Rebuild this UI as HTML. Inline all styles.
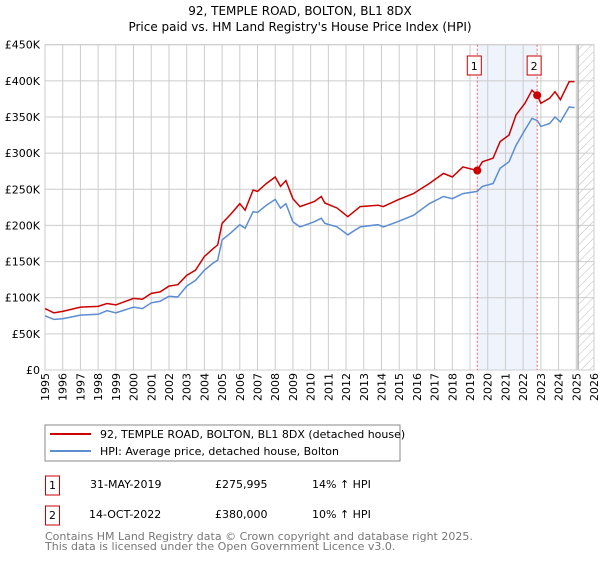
<!DOCTYPE html>
<html><head><meta charset="utf-8"><style>
body{margin:0;width:600px;height:560px;background:#fff;font-family:"DejaVu Sans","Liberation Sans",sans-serif;overflow:hidden}
svg text{font-family:"DejaVu Sans","Liberation Sans",sans-serif}
</style></head><body>
<svg id="c" width="600" height="560" xmlns="http://www.w3.org/2000/svg">
<text x="300" y="15" text-anchor="middle" font-size="12">92, TEMPLE ROAD, BOLTON, BL1 8DX</text>
<text x="300" y="31" text-anchor="middle" font-size="12">Price paid vs. HM Land Registry's House Price Index (HPI)</text>
<defs><pattern id="hatch" width="6" height="6" patternUnits="userSpaceOnUse" patternTransform="rotate(45)"><line x1="0" y1="0" x2="0" y2="6" stroke="#bbb" stroke-width="1"/></pattern></defs>
<g id="grid"></g><g id="marks"></g>
<rect x="45" y="425" width="355" height="36" fill="#fff" stroke="#888"/>
<line x1="50" y1="434" x2="91" y2="434" stroke="#cc0000" stroke-width="2"/>
<text x="100" y="438" font-size="11">92, TEMPLE ROAD, BOLTON, BL1 8DX (detached house)</text>
<line x1="50" y1="451" x2="91" y2="451" stroke="#5b8dd0" stroke-width="2"/>
<text x="100" y="455" font-size="11">HPI: Average price, detached house, Bolton</text>
<g>
<rect x="45.5" y="476" width="14" height="19" fill="#fff" stroke="#cc0000"/>
<text x="52.5" y="489" text-anchor="middle" font-size="11">1</text>
<text x="90" y="488" font-size="11">31-MAY-2019</text>
<text x="215" y="488" font-size="11">£275,995</text>
<text x="312" y="488" font-size="11">14% ↑ HPI</text></g>
<g>
<rect x="45.5" y="506" width="14" height="19" fill="#fff" stroke="#cc0000"/>
<text x="52.5" y="519" text-anchor="middle" font-size="11">2</text>
<text x="89" y="518" font-size="11">14-OCT-2022</text>
<text x="215" y="518" font-size="11">£380,000</text>
<text x="312" y="518" font-size="11">10% ↑ HPI</text></g>
<text x="45" y="540" font-size="11" fill="#777">Contains HM Land Registry data © Crown copyright and database right 2025.</text>
<text x="45" y="550" font-size="11" fill="#777">This data is licensed under the Open Government Licence v3.0.</text>
</svg>
<script>
const yTicks=[0,50,100,150,200,250,300,350,400,450];
const yearTicks=[1995,1996,1997,1998,1999,2000,2001,2002,2003,2004,2005,2006,2007,2008,2009,2010,2011,2012,2013,2014,2015,2016,2017,2018,2019,2020,2021,2022,2023,2024,2025,2026];
const dates=[1995,1995.5,1996,1997,1998,1998.5,1999,2000,2000.5,2001,2001.5,2002,2002.5,2003,2003.5,2004,2004.5,2004.75,2005,2005.5,2006,2006.3,2006.75,2007,2007.5,2008,2008.3,2008.6,2009,2009.4,2010.2,2010.6,2010.8,2011.5,2012.1,2012.8,2013.8,2014.1,2014.9,2015.8,2016.7,2017.5,2018.0,2018.6,2019.4,2019.7,2020.3,2020.7,2021.2,2021.6,2022.1,2022.5,2022.8,2023.0,2023.5,2023.8,2024.1,2024.6,2024.9];
const propertyValues=[85,79,81,87,88,92,90,99,98,106,108,116,118,131,138,157,168,173,203,216,230,221,249,247,258,267,254,262,237,226,233,240,231,224,212,226,228,226,235,244,258,272,267,281,276,288,293,316,325,353,369,387,380,369,376,385,374,399,399];
const hpiValues=[75,70,71,76,77,82,79,87,85,93,95,102,101,116,124,138,148,152,180,190,201,196,219,218,228,236,224,230,205,198,205,210,203,198,187,198,201,198,205,214,230,240,237,244,247,254,258,279,288,311,332,348,345,337,341,350,343,364,363];
const saleDates=[2019.41,2022.79];
const salePrices=[275.995,380];
const saleLabels=["1","2"];
const X0=45,X1=594,Y0=370,Y1=44.7,xmin=1995,xmax=2026,ymax=450;
const sx=v=>X0+(v-xmin)/(xmax-xmin)*(X1-X0);
const sy=v=>Y0-v/ymax*(Y0-Y1);
const NS="http://www.w3.org/2000/svg";
function mk(tag,attrs,parent){const e=document.createElementNS(NS,tag);for(const k in attrs)e.setAttribute(k,attrs[k]);parent.appendChild(e);return e;}
const g=document.getElementById('grid'),m=document.getElementById('marks');
let r=mk('rect',{x:sx(saleDates[0]),y:Y1,width:sx(saleDates[1])-sx(saleDates[0]),height:Y0-Y1,fill:'#eef3fc'},g);


let h=mk('rect',{x:sx(2025.1),y:Y1,width:X1-sx(2025.1),height:Y0-Y1,fill:'url(#hatch)'},g);


yTicks.forEach(v=>{
 let l=mk('line',{x1:X0,x2:X1,y1:sy(v),y2:sy(v),stroke:'#ccc'},g);
 
 
 let t=mk('text',{x:X0-5,y:sy(v)+4,'text-anchor':'end','font-size':11},g);
 t.textContent=v===0?'£0':'£'+v+'K';
 
 
});
yearTicks.forEach(y=>{
 let l=mk('line',{x1:sx(y),x2:sx(y),y1:Y1,y2:Y0,stroke:'#ccc'},g);
 
 
 let t=mk('text',{x:0,y:0,'font-size':11,transform:`translate(${sx(y)+4},${Y0+31}) rotate(-90)`},g);
 t.textContent=y;
 
 
});
let vl=mk('line',{x1:sx(2025.1),x2:sx(2025.1),y1:Y1,y2:Y0,stroke:'#888'},g);


function path(vals){return vals.map((v,i)=>(i?'L':'M')+sx(dates[i]).toFixed(1)+','+sy(v).toFixed(1)).join('');}
let hp=mk('path',{d:path(hpiValues),fill:'none',stroke:'#5b8dd0','stroke-width':1.5},m);


let pp=mk('path',{d:path(propertyValues),fill:'none',stroke:'#cc0000','stroke-width':1.5},m);


saleDates.forEach((d,i)=>{
 let l=mk('line',{x1:sx(d),x2:sx(d),y1:Y1,y2:Y0,stroke:'#f06060','stroke-dasharray':'2,2'},m);
 
 
 let c=mk('circle',{cx:sx(d),cy:sy(salePrices[i]),r:4,fill:'#cc0000'},m);
 
 
 let b=mk('rect',{x:sx(d)-10,y:56,width:14,height:19,fill:'#fff',stroke:'#cc0000'},m);
 
 
 let t=mk('text',{x:sx(d)-3,y:70,'text-anchor':'middle','font-size':11},m);
 t.textContent=saleLabels[i];
 
 
});
let ax=mk('rect',{x:X0,y:Y1,width:X1-X0,height:Y0-Y1,fill:'none',stroke:'#ccc'},g);


</script>
</body></html>
